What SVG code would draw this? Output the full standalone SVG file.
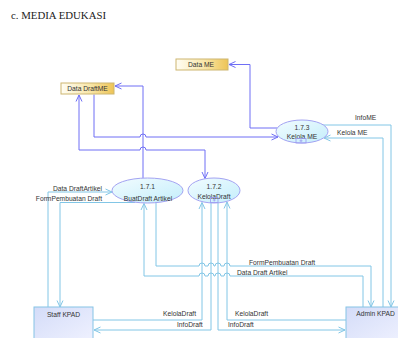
<svg xmlns="http://www.w3.org/2000/svg" width="398" height="338" viewBox="0 0 398 338">
  <style>
    .t { font-family: "Liberation Sans", Arial, sans-serif; font-size: 6.7px; fill: #333; }
    .c { text-anchor: middle; }
    .e { text-anchor: end; }
    .dk { fill: none; stroke: #6f6ff5; stroke-width: 1; }
    .lt { fill: none; stroke: #82c6e6; stroke-width: 1; }
    .proc { fill: url(#gProc); stroke: #a3a3f2; stroke-width: 1; }
    .store { fill: url(#gStore); stroke: #cdb670; stroke-width: 1; }
    .ent { fill: url(#gEnt); stroke: #86c4e6; stroke-width: 1; }
    .dec { fill: none; stroke: #9a9af0; stroke-width: 0.8; }
  </style>
  <defs>
    <linearGradient id="gProc" x1="0" y1="0" x2="1" y2="1">
      <stop offset="0" stop-color="#f2fcff"/>
      <stop offset="1" stop-color="#c4eefb"/>
    </linearGradient>
    <linearGradient id="gStore" x1="0" y1="0" x2="1" y2="0">
      <stop offset="0" stop-color="#fffdf4"/>
      <stop offset="0.55" stop-color="#f8e6a8"/>
      <stop offset="1" stop-color="#eec456"/>
    </linearGradient>
    <linearGradient id="gEnt" x1="0" y1="0" x2="1" y2="1">
      <stop offset="0" stop-color="#d4dcf8"/>
      <stop offset="1" stop-color="#f0f2ff"/>
    </linearGradient>
    <marker id="aDk" viewBox="0 0 8 8" refX="7.5" refY="4" markerWidth="8" markerHeight="8" markerUnits="userSpaceOnUse" orient="auto-start-reverse">
      <path d="M1,1 L7.5,4 L1,7" fill="none" stroke="#6f6ff5" stroke-width="1"/>
    </marker>
    <marker id="aLt" viewBox="0 0 8 8" refX="7.5" refY="4" markerWidth="8" markerHeight="8" markerUnits="userSpaceOnUse" orient="auto-start-reverse">
      <path d="M1,1 L7.5,4 L1,7" fill="none" stroke="#82c6e6" stroke-width="1"/>
    </marker>
  </defs>

  <rect width="398" height="338" fill="#ffffff"/>

  <text x="11" y="19" font-family="'Liberation Serif', 'Times New Roman', serif" font-size="10.8" fill="#222">c. MEDIA EDUKASI</text>

  <g id="connectors">
    <!-- data store flows -->
    <path class="dk" d="M277,128 L250,128 L250,64.5 L229,64.5" marker-end="url(#aDk)"/>
    <path class="dk" d="M143,178.5 L143,86 L115,86" marker-end="url(#aDk)"/>
    <path class="dk" d="M94,94.5 L94,137 L140,137 A3,3 0 0 1 146,137 L278,137" marker-end="url(#aDk)"/>
    <path class="dk" d="M79,95 L79,150 L140,150 A3,3 0 0 1 146,150 L205,150 L205,178.5" marker-start="url(#aDk)" marker-end="url(#aDk)"/>

    <!-- Staff KPAD <-> 1.7.1 -->
    <path class="lt" d="M48,307 L48,192 L112,192" marker-end="url(#aLt)"/>
    <path class="lt" d="M135,202.5 L60,202.5 L60,307" marker-end="url(#aLt)"/>

    <!-- 1.7.1 <-> Admin KPAD -->
    <path class="lt" d="M156,200 L156,266 L199,266 A3,3 0 0 1 205,266 L208,266 A3,3 0 0 1 214,266 L215,266 A3,3 0 0 1 221,266 L224,266 A3,3 0 0 1 230,266 L371,266 L371,307" marker-end="url(#aLt)"/>
    <path class="lt" d="M363,307 L363,276 L230,276 A3,3 0 0 0 224,276 L221,276 A3,3 0 0 0 215,276 L214,276 A3,3 0 0 0 208,276 L205,276 A3,3 0 0 0 199,276 L144,276 L144,203.5" marker-end="url(#aLt)"/>

    <!-- 1.7.2 <-> Staff KPAD / Admin KPAD -->
    <path class="lt" d="M93,320 L202,320 L202,202.5" marker-end="url(#aLt)"/>
    <path class="lt" d="M211,200 L211,330 L94,330" marker-end="url(#aLt)"/>
    <path class="lt" d="M218,200 L218,330 L345,330" marker-end="url(#aLt)"/>
    <path class="lt" d="M346,320 L227,320 L227,202" marker-end="url(#aLt)"/>

    <!-- 1.7.3 <-> Admin KPAD -->
    <path class="lt" d="M323,125 L391,125 L391,307" marker-end="url(#aLt)"/>
    <path class="lt" d="M383,307 L383,138 L324,138" marker-end="url(#aLt)"/>

    <!-- flow labels -->
    <text class="t e" x="102" y="191">Data DraftArtikel</text>
    <text class="t e" x="102" y="200.5">FormPembuatan Draft</text>
    <text class="t" x="249" y="265">FormPembuatan Draft</text>
    <text class="t" x="237" y="274.5">Data Draft Artikel</text>
    <text class="t" x="163" y="316">KelolaDraft</text>
    <text class="t" x="177" y="327">InfoDraft</text>
    <text class="t" x="235" y="315.5">KelolaDraft</text>
    <text class="t" x="228" y="327">InfoDraft</text>
    <text class="t" x="355" y="120">InfoME</text>
    <text class="t" x="337" y="135">Kelola ME</text>
  </g>

  <g id="store-data-me">
    <rect class="store" x="176" y="59" width="52" height="11"/>
    <text class="t c" x="201" y="67">Data ME</text>
  </g>

  <g id="store-data-draftme">
    <rect class="store" x="61" y="83" width="53" height="11"/>
    <text class="t c" x="87.5" y="91">Data DraftME</text>
  </g>

  <g id="proc-1-7-1">
    <ellipse class="proc" cx="147.5" cy="190.5" rx="35.5" ry="12.5"/>
    <text class="t c" x="147.5" y="189">1.7.1</text>
    <text class="t c" x="148" y="200.5">BuatDraft Artikel</text>
  </g>

  <g id="proc-1-7-2">
    <ellipse class="proc" cx="214" cy="190.5" rx="26" ry="12.5"/>
    <text class="t c" x="214" y="188.5">1.7.2</text>
    <text class="t c" x="214" y="198.5">KelolaDraft</text>
    <rect class="dec" x="210.5" y="197.5" width="7.5" height="5"/>
    <path class="dec" d="M214.25,198.5 L214.25,201.5 M212.8,200 L215.7,200"/>
  </g>

  <g id="proc-1-7-3">
    <ellipse class="proc" cx="302" cy="131.5" rx="26" ry="11.5"/>
    <text class="t c" x="302" y="129.5">1.7.3</text>
    <text class="t c" x="302" y="139">Kelola ME</text>
    <rect class="dec" x="296" y="138.5" width="10" height="4.5"/>
    <path class="dec" d="M301,139.3 L301,142.3 M299.5,140.8 L302.5,140.8"/>
  </g>

  <g id="ent-staff-kpad">
    <rect class="ent" x="34" y="307" width="59" height="36"/>
    <text class="t c" x="63.5" y="317">Staff KPAD</text>
  </g>

  <g id="ent-admin-kpad">
    <rect class="ent" x="346" y="307" width="60" height="36"/>
    <text class="t c" x="375.5" y="315.5">Admin KPAD</text>
  </g>
</svg>
